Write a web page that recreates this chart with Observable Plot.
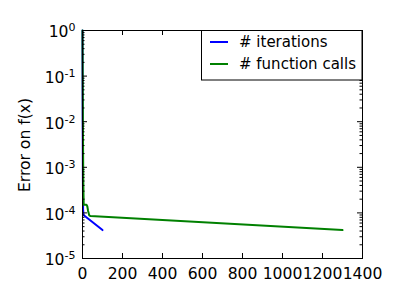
<!DOCTYPE html>
<html><head><meta charset="utf-8">
<script src="https://cdn.jsdelivr.net/npm/d3@7"></script>
<script src="https://cdn.jsdelivr.net/npm/@observablehq/plot@0.6"></script>
<style>body{margin:0;background:#fff;font-family:"DejaVu Sans",sans-serif}</style>
</head><body><div id="chart"></div>
<script>
const xTicks = [0, 200, 400, 600, 800, 1000, 1200, 1400];
const yExponents = [0, -1, -2, -3, -4, -5];
const seriesNames = ["# iterations", "# function calls"];
const iterX = [0, 1, 2, 3, 5, 100];
const iterY = [1, 1e-2, 5e-4, 1.2e-4, 9e-5, 4.2e-5];
const funcX = [0, 2, 4, 6, 20, 24, 28, 34, 40, 1300];
const funcY = [1, 1e-2, 5e-4, 1.5e-4, 1.5e-4, 1.4e-4, 1.1e-4, 8.8e-5, 8.5e-5, 4.2e-5];
const colors = ["#0000ff", "#008000"];

const yTicks = yExponents.map(e => Math.pow(10, e));
const minor = [];
for (const e of yExponents.slice(1)) for (let m = 2; m <= 9; m++) minor.push(m * Math.pow(10, e));

const W = 280, H = 228;
const plot = Plot.plot({
  width: 400, height: 300,
  marginLeft: 82, marginRight: 38, marginTop: 30, marginBottom: 42,
  style: {fontFamily: "DejaVu Sans", fontSize: "15.6px", color: "black", background: "white"},
  x: {domain: [0, 1400], ticks: xTicks},
  y: {type: "log", domain: [1e-5, 1], ticks: yTicks},
  marks: [
    Plot.axisX({ticks: xTicks, tickSize: 0, tickPadding: 9, fontSize: 15.6, tickFormat: d => String(d), label: null}),
    Plot.axisY({ticks: yTicks, tickSize: 0, tickPadding: 7, fontSize: 15.6, tickFormat: d => "10|" + Math.round(Math.log10(d)), label: null}),
    Plot.line(iterX, {x: d => d, y: (d, i) => iterY[i], stroke: colors[0], strokeWidth: 2}),
    Plot.line(funcX, {x: d => d, y: (d, i) => funcY[i], stroke: colors[1], strokeWidth: 2}),
    Plot.tickY(yTicks, {y: d => d, stroke: "black", insetRight: W - 5}),
    Plot.tickY(yTicks, {y: d => d, stroke: "black", insetLeft: W - 5}),
    Plot.tickY(minor, {y: d => d, stroke: "black", insetRight: W - 2.5}),
    Plot.tickY(minor, {y: d => d, stroke: "black", insetLeft: W - 2.5}),
    Plot.tickX(xTicks, {x: d => d, stroke: "black", insetTop: H - 5}),
    Plot.tickX(xTicks, {x: d => d, stroke: "black", insetBottom: H - 5}),
    Plot.frame({stroke: "black", strokeWidth: 1})
  ]
});
const svg = d3.select(plot);
// superscript tick labels
svg.selectAll("text").each(function() {
  const t = d3.select(this);
  const s = t.text();
  if (s.startsWith("10|")) {
    const exp = s.slice(3);
    t.text(null);
    t.append("tspan").attr("dy", "0.12em").text("10");
    t.append("tspan").attr("dy", "-0.55em").attr("font-size", "11px").text(exp);
  }
});
// y-axis label
svg.append("text").attr("transform", "translate(25,145) rotate(-90)")
  .attr("text-anchor", "middle").attr("dominant-baseline", "middle")
  .attr("font-size", 15.6).attr("font-family", "DejaVu Sans").text("Error on f(x)");
// legend
const lg = svg.append("g").attr("font-family", "DejaVu Sans").attr("font-size", 15).attr("text-anchor", "start");
lg.append("rect").attr("x", 201.5).attr("y", 30.5).attr("width", 160.5).attr("height", 49.5)
  .attr("fill", "white").attr("stroke", "black");
seriesNames.forEach((n, i) => {
  const y = 42 + i * 22;
  lg.append("line").attr("x1", 210).attr("x2", 228).attr("y1", y).attr("y2", y)
    .attr("stroke", colors[i]).attr("stroke-width", 2);
  lg.append("text").attr("x", 239).attr("y", y).attr("text-anchor", "start").attr("dominant-baseline", "middle").text(n);
});
document.getElementById("chart").append(plot);
</script></body></html>
